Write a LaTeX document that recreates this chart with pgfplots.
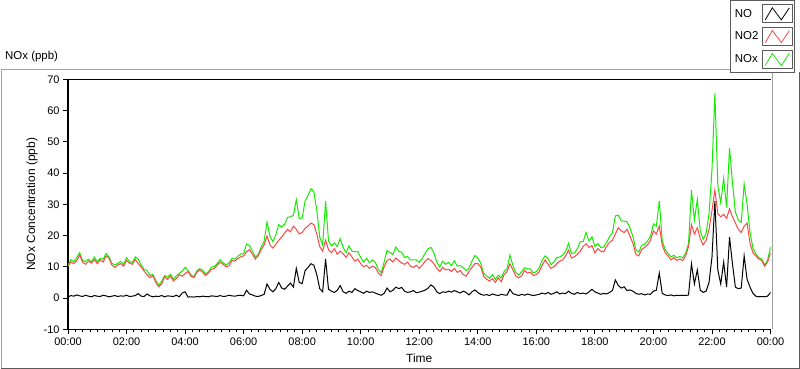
\documentclass[border=0pt]{standalone}
\usepackage{fontspec}
\setmainfont{Liberation Sans}
\usepackage{pgfplots}
\pgfplotsset{compat=1.18}
\usepackage{pgfplotstable}
\definecolor{noxgreen}{RGB}{20,235,0}
\definecolor{notwored}{RGB}{255,70,70}
\definecolor{framegray}{RGB}{160,160,160}
\definecolor{framedark}{RGB}{90,90,90}

\pgfplotstableread{
t NO NO2 NOx
0.0 0.3 10.2 10.5
0.1 0.8 11.5 12.3
0.2 0.6 11.0 11.6
0.3 1.0 12.0 13.0
0.4 0.7 13.8 14.5
0.5 0.5 11.5 12.0
0.6 0.9 10.8 11.7
0.7 0.6 11.8 12.4
0.8 0.4 11.2 11.6
0.9 0.8 12.3 13.1
1.0 0.6 11.0 11.6
1.1 0.5 12.2 12.7
1.2 0.9 11.5 12.4
1.3 0.7 13.5 14.2
1.4 0.4 12.8 13.2
1.5 0.6 10.5 11.1
1.6 0.8 9.8 10.6
1.7 0.5 10.6 11.1
1.8 0.7 11.0 11.7
1.9 0.6 10.2 10.8
2.0 0.9 12.0 12.9
2.1 0.5 11.2 11.7
2.2 0.6 10.8 11.4
2.3 0.8 12.4 13.2
2.4 1.4 11.0 12.4
2.5 0.6 10.0 10.6
2.6 0.5 8.6 9.1
2.7 1.3 7.5 8.8
2.8 0.7 6.5 7.2
2.9 0.4 7.2 7.6
3.0 0.6 5.0 5.6
3.1 0.5 3.6 4.1
3.2 0.8 4.5 5.3
3.3 0.4 6.8 7.2
3.4 0.7 6.0 6.7
3.5 0.6 7.0 7.6
3.6 0.5 5.5 6.0
3.7 0.9 6.2 7.1
3.8 0.4 7.5 7.9
3.9 1.6 7.0 8.6
4.0 2.0 7.8 9.8
4.1 0.3 8.5 8.8
4.2 0.4 7.0 7.4
4.3 0.3 6.5 6.8
4.4 0.5 8.2 8.7
4.5 0.4 9.0 9.4
4.6 0.6 8.3 8.9
4.7 0.5 7.2 7.7
4.8 0.4 8.0 8.4
4.9 0.7 9.2 9.9
5.0 0.6 9.5 10.1
5.1 0.5 10.5 11.0
5.2 0.8 11.5 12.3
5.3 0.5 10.8 11.3
5.4 0.6 10.0 10.6
5.5 0.9 10.3 11.2
5.6 0.7 12.0 12.7
5.7 0.6 11.8 12.4
5.8 0.8 12.6 13.4
5.9 0.9 13.2 14.1
6.0 0.7 13.5 14.2
6.1 2.5 14.8 17.3
6.2 1.3 15.5 16.8
6.3 1.0 14.0 15.0
6.4 0.6 12.5 13.1
6.5 0.5 13.5 14.0
6.6 0.8 15.5 16.3
6.7 1.2 17.0 18.2
6.8 4.5 19.8 24.3
6.9 2.8 17.0 19.8
7.0 2.0 16.0 18.0
7.1 3.0 17.2 20.2
7.2 5.0 18.5 23.5
7.3 3.2 19.5 22.7
7.4 2.8 20.8 23.6
7.5 3.8 22.0 25.8
7.6 4.8 21.2 26.0
7.7 3.5 23.0 26.5
7.8 9.5 22.0 31.5
7.9 5.0 20.5 25.5
8.0 4.6 21.0 25.6
8.1 8.8 22.3 31.1
8.2 9.8 23.0 32.8
8.3 11.0 24.0 35.0
8.4 10.5 23.5 34.0
8.5 7.5 20.5 28.0
8.6 3.0 16.5 19.5
8.7 2.0 15.0 17.0
8.8 12.5 18.5 31.0
8.9 2.8 15.5 18.3
9.0 2.2 14.5 16.7
9.1 1.8 15.8 17.6
9.2 2.5 14.0 16.5
9.3 4.0 15.0 19.0
9.4 2.0 14.2 16.2
9.5 1.5 13.0 14.5
9.6 2.2 14.5 16.7
9.7 1.8 13.2 15.0
9.8 3.0 11.8 14.8
9.9 2.4 12.5 14.9
10.0 2.0 11.0 13.0
10.1 1.5 10.0 11.5
10.2 2.2 10.5 12.7
10.3 1.8 9.5 11.3
10.4 2.0 10.2 12.2
10.5 1.6 9.8 11.4
10.6 1.2 8.0 9.2
10.7 0.9 7.2 8.1
10.8 1.5 10.0 11.5
10.9 3.2 12.0 15.2
11.0 2.0 12.5 14.5
11.1 2.5 11.5 14.0
11.2 3.5 12.8 16.3
11.3 3.0 12.0 15.0
11.4 3.4 11.2 14.6
11.5 2.2 10.8 13.0
11.6 1.8 11.5 13.3
11.7 2.0 10.2 12.2
11.8 2.4 9.8 12.2
11.9 1.7 10.5 12.2
12.0 1.9 9.5 11.4
12.1 2.2 10.5 12.7
12.2 2.5 11.8 14.3
12.3 3.2 12.6 15.8
12.4 4.2 12.0 16.2
12.5 3.5 11.0 14.5
12.6 2.0 9.5 11.5
12.7 1.4 8.5 9.9
12.8 2.0 9.8 11.8
12.9 1.8 9.0 10.8
13.0 2.2 9.2 11.4
13.1 1.9 8.5 10.4
13.2 2.4 9.5 11.9
13.3 2.0 8.2 10.2
13.4 1.6 8.8 10.4
13.5 2.2 7.5 9.7
13.6 1.8 7.0 8.8
13.7 1.0 8.5 9.5
13.8 2.0 9.8 11.8
13.9 2.6 11.0 13.6
14.0 1.8 11.0 12.8
14.1 1.2 10.0 11.2
14.2 0.9 7.0 7.9
14.3 1.1 6.0 7.1
14.4 0.8 5.5 6.3
14.5 1.3 6.2 7.5
14.6 1.0 5.0 6.0
14.7 0.8 6.5 7.3
14.8 1.2 5.2 6.4
14.9 1.0 7.5 8.5
15.0 0.9 8.5 9.4
15.1 2.8 11.0 13.8
15.2 1.4 9.0 10.4
15.3 1.1 7.0 8.1
15.4 0.8 6.5 7.3
15.5 1.2 7.2 8.4
15.6 0.9 8.8 9.7
15.7 1.3 8.0 9.3
15.8 1.0 8.3 9.3
15.9 0.8 7.2 8.0
16.0 1.0 7.5 8.5
16.1 1.2 8.5 9.7
16.2 1.6 10.5 12.1
16.3 1.3 12.2 13.5
16.4 1.8 10.8 12.6
16.5 1.2 9.5 10.7
16.6 1.5 10.0 11.5
16.7 2.0 11.0 13.0
16.8 1.3 11.8 13.1
16.9 1.6 12.2 13.8
17.0 1.4 13.5 14.9
17.1 2.2 15.3 17.5
17.2 1.5 12.8 14.3
17.3 1.2 13.2 14.4
17.4 1.8 14.0 15.8
17.5 1.4 15.0 18.0
17.6 1.6 16.5 18.1
17.7 1.3 17.4 21.0
17.8 2.0 16.2 18.2
17.9 2.8 16.8 19.6
18.0 2.0 14.5 16.5
18.1 1.6 15.8 17.4
18.2 1.2 15.0 16.2
18.3 1.5 14.8 16.3
18.4 1.3 16.5 17.8
18.5 1.8 17.8 19.6
18.6 2.4 18.5 20.9
18.7 5.8 20.5 26.3
18.8 4.0 22.5 26.5
18.9 3.2 21.5 24.7
19.0 3.6 21.0 24.6
19.1 2.4 22.0 24.4
19.2 2.6 19.8 22.4
19.3 2.2 17.5 19.7
19.4 1.5 14.0 15.5
19.5 1.2 13.5 14.7
19.6 1.4 15.5 16.9
19.7 1.0 16.2 17.2
19.8 1.3 17.0 18.3
19.9 1.2 18.5 19.7
20.0 2.2 21.5 23.7
20.1 2.5 20.5 23.0
20.2 8.0 23.0 31.0
20.3 1.5 17.0 18.5
20.4 1.0 14.5 15.5
20.5 0.8 13.5 14.3
20.6 1.0 12.2 13.2
20.7 0.7 13.0 13.7
20.8 0.9 12.0 12.9
20.9 0.8 12.5 13.3
21.0 0.9 12.0 12.9
21.1 0.8 13.5 14.3
21.2 1.0 16.5 17.5
21.3 11.0 23.5 34.5
21.4 4.5 20.5 25.0
21.5 9.0 22.5 31.5
21.6 2.5 19.0 21.5
21.7 1.8 17.0 18.8
21.8 2.2 18.5 20.7
21.9 5.0 22.0 27.0
22.0 13.0 28.0 41.0
22.1 31.0 34.5 65.5
22.2 9.0 27.0 36.0
22.3 4.5 26.0 30.5
22.4 11.5 26.8 38.3
22.5 3.5 25.5 29.0
22.6 19.5 28.5 48.0
22.7 11.0 26.0 37.0
22.8 3.5 24.0 27.5
22.9 3.0 22.0 25.0
23.0 3.2 21.0 24.2
23.1 13.5 23.0 36.5
23.2 6.0 24.0 30.0
23.3 3.5 17.5 21.0
23.4 1.5 14.5 16.0
23.5 0.6 13.5 14.1
23.6 0.4 12.5 12.9
23.7 0.5 12.0 12.5
23.8 0.4 10.2 10.6
23.9 0.6 11.5 12.1
24.0 1.8 14.5 16.3
}\noxdata

\begin{document}
\begin{tikzpicture}
\useasboundingbox (0bp,0bp) rectangle (800bp,369bp);
\draw[framegray, line width=1bp] (1bp,1bp) -- (1bp,299bp) -- (730bp,299bp);
\draw[framedark, line width=1bp] (1bp,1bp) -- (799bp,1bp) -- (799bp,297bp);
\node[anchor=west, font=\fontsize{11.5}{13}\selectfont, inner sep=0pt] at (5bp,312bp) {NOx (ppb)};
\begin{axis}[
  scale only axis, width=702.5bp, height=250bp,
  at={(68bp,39.7bp)}, anchor=south west,
  xmin=0, xmax=24, ymin=-10, ymax=70,
  clip mode=individual,
  axis x line*=bottom, axis y line*=left,
  axis line style={-, black, line width=1.2bp},
  tick align=outside,
  major tick length=5bp, minor tick length=3bp,
  tick style={black, line width=0.8bp},
  xtick={0,2,...,24},
  xticklabels={00:00,02:00,04:00,06:00,08:00,10:00,12:00,14:00,16:00,18:00,20:00,22:00,00:00},
  minor x tick num=7,
  ytick={-10,0,10,20,30,40,50,60,70},
  yticklabels={-10,0,10,20,30,40,50,60,70},
  /pgf/number format/assume math mode=true,
  ticklabel style={font=\fontsize{11}{13}\selectfont},
  xlabel={Time},
  ylabel={NOx Concentration (ppb)},
  every axis x label/.style={at={(axis description cs:0.5,-0.1148)}, anchor=center, font=\fontsize{12}{14}\selectfont},
  every axis y label/.style={at={(axis description cs:-0.0512,0.5)}, rotate=90, anchor=center, font=\fontsize{12}{14}\selectfont},
  legend plot pos=right,
  legend cell align=left,
  reverse legend,
  legend style={at={(axis description cs:0.9423,1.3172)}, anchor=north west,
    draw=framedark, fill=white, line width=0.8bp,
    font=\fontsize{11.5}{13}\selectfont,
    inner xsep=2bp, inner ysep=4bp, row sep=4bp,
    nodes={inner xsep=2.5bp},
    /tikz/column sep=1bp},
  legend image code/.code={
    \draw[framedark, line width=0.8bp, fill=white] (0bp,-9bp) rectangle (30bp,9bp);
    \draw[#1, line width=0.8bp] (3bp,-6bp) -- (10bp,6bp) -- (19bp,-6bp) -- (27bp,6bp);
  },
]
\addplot[draw=noxgreen, line width=1bp] table[x=t, y=NOx] {\noxdata};
\addlegendentry{NOx}
\addplot[draw=notwored, line width=1bp] table[x=t, y=NO2] {\noxdata};
\addlegendentry{NO2}
\addplot[draw=black, line width=1bp] table[x=t, y=NO] {\noxdata};
\addlegendentry{NO}
\draw[black, line width=1bp] (rel axis cs:0,1) -- (rel axis cs:1,1);
\draw[framegray, line width=1bp] (rel axis cs:1,1) ++(2bp,0) -- ([xshift=2bp]rel axis cs:1,0);
\end{axis}
\end{tikzpicture}
\end{document}
